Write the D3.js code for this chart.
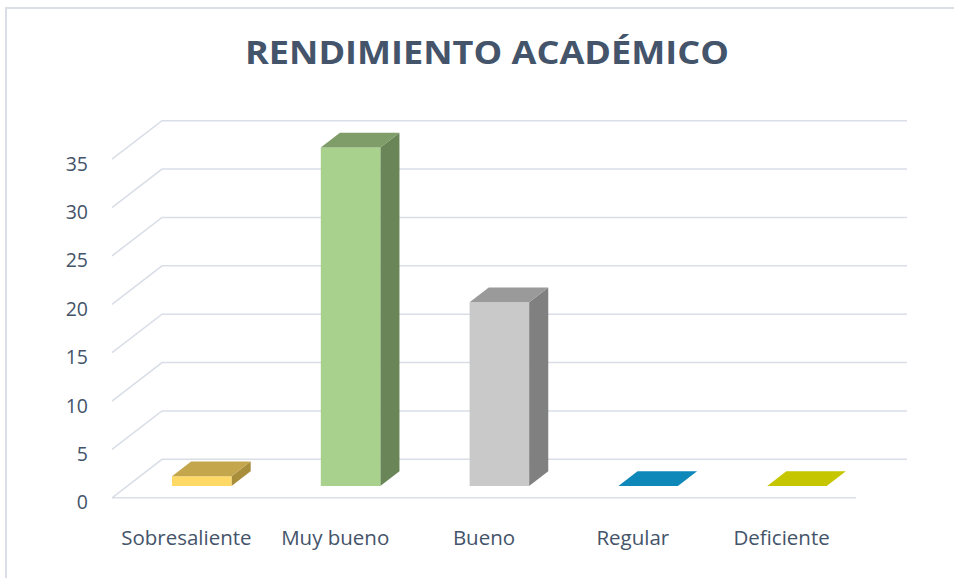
<!DOCTYPE html>
<html><head><meta charset="utf-8">
<script src="https://cdn.jsdelivr.net/npm/d3@7/dist/d3.min.js"></script>
<style>html,body{margin:0;padding:0;background:#fff;}svg{display:block;}</style>
</head><body>
<svg id="c" width="954" height="578"></svg>
<script>
const title = "RENDIMIENTO ACADÉMICO";
const categories = ["Sobresaliente", "Muy bueno", "Bueno", "Regular", "Deficiente"];
const values = [1, 35, 19, 0, 0];
const tickValues = [0, 5, 10, 15, 20, 25, 30, 35];
const frontColors = ["#FFD966", "#A9D18E", "#C9C9C9", "#0E88B8", "#C6C600"];
const topColors   = ["#C4A64C", "#7F9D69", "#9A9A9A", "#0E88B8", "#C6C600"];
const sideColors  = ["#A88D3A", "#6A8658", "#808080", "#0B6E96", "#A3A300"];

const svg = d3.select("#c");
const textColor = "#44546A";
const gridColor = "#D9DEE7";

// back wall origin and floor depth
const X0 = 162, W = 745, DX = 50, DY = 38.5;
const y = d3.scaleLinear().domain([0, 35]).range([459.3, 120.7]);
const x = d3.scaleBand().domain(categories).range([0, 744]).paddingInner(0.6).paddingOuter(0.3);
const P = (xv, yv, f) => [X0 + xv - DX * f, y(yv) + DY * f];
const fFront = 0.693, fBack = 0.31;

// outer border
svg.append("path").attr("d", "M6,578 L6,8 L954,8").attr("fill", "none").attr("stroke", "#D9DEE7").attr("stroke-width", 2);

// gridlines: back wall + left wall diagonal
const g = svg.append("g");
tickValues.forEach(t => {
  const a = P(0, t, 1), b = P(0, t, 0), c = P(W, t, 0);
  g.append("path").attr("d", `M${a[0]},${a[1]} L${b[0]},${b[1]} L${c[0]},${c[1]}`)
    .attr("fill", "none").attr("stroke", gridColor).attr("stroke-width", 1.6);
});
// front floor edge
{
  const a = P(0, 0, 1), b = P(744, 0, 1);
  g.append("line").attr("x1", a[0]).attr("y1", a[1]).attr("x2", b[0]).attr("y2", b[1])
    .attr("stroke", gridColor).attr("stroke-width", 1.6);
}

// tick labels
svg.append("g").selectAll("text").data(tickValues).join("text")
  .attr("x", 88).attr("y", d => y(d) + DY + 4)
  .attr("text-anchor", "end").attr("dominant-baseline", "central")
  .attr("font-family", "Open Sans, sans-serif").attr("font-size", 19.5).attr("fill", textColor)
  .text(d => d);

// bars
const poly = pts => "M" + pts.map(p => p.join(",")).join("L") + "Z";
const bars = svg.append("g");
categories.forEach((cat, i) => {
  const v = values[i];
  const x0 = x(cat), x1 = x(cat) + x.bandwidth();
  const fl = P(x0, 0, fFront), fr = P(x1, 0, fFront), ftl = P(x0, v, fFront), ftr = P(x1, v, fFront);
  const br = P(x1, 0, fBack), btl = P(x0, v, fBack), btr = P(x1, v, fBack);
  if (v > 0) {
    bars.append("path").attr("d", poly([fr, br, btr, ftr])).attr("fill", sideColors[i]);
    bars.append("path").attr("d", poly([fl, fr, ftr, ftl])).attr("fill", frontColors[i]);
  }
  bars.append("path").attr("d", poly([ftl, ftr, btr, btl])).attr("fill", topColors[i]);
});

// category labels
svg.append("g").selectAll("text").data(categories).join("text")
  .attr("x", d => P(x(d) + x.bandwidth() / 2, 0, 1)[0])
  .attr("y", 544.5)
  .attr("text-anchor", "middle")
  .attr("font-family", "Open Sans, sans-serif").attr("font-size", 20.5).attr("fill", textColor)
  .text(d => d);

// title
svg.append("text").attr("x", 487).attr("y", 63.5).attr("text-anchor", "middle")
  .attr("font-family", "Open Sans, sans-serif").attr("font-weight", "bold").attr("font-size", 32)
  .attr("fill", textColor).attr("textLength", 484).attr("lengthAdjust", "spacingAndGlyphs")
  .text(title);
</script>
</body></html>
